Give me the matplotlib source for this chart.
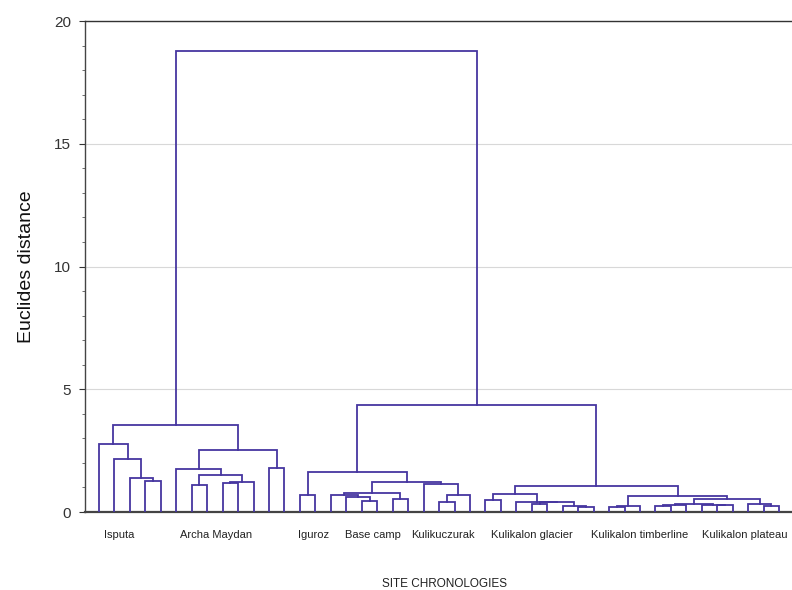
import matplotlib
matplotlib.use("Agg")
import matplotlib.pyplot as plt
from matplotlib.ticker import MultipleLocator

plt.rcParams["font.family"] = ["Liberation Sans", "DejaVu Sans"]

# 45 chronologies, leaves numbered left to right
N_LEAVES = 45

# linkage: node ids >= 45 are clusters, created in this order
merge_a = [3, 2, 1, 0, 6, 8, 50, 49, 5, 11, 53, 48,
           13, 17, 16, 15, 19, 60, 22, 63, 21, 62, 57,
           25, 28, 31, 30, 69, 27, 68,
           33, 75, 36, 77, 40, 39, 78, 43, 42, 81, 76, 74,
           67, 56]
merge_b = [4, 45, 46, 47, 7, 9, 10, 51, 52, 12, 54, 55,
           14, 18, 58, 59, 20, 61, 23, 24, 64, 65, 66,
           26, 29, 32, 70, 71, 72, 73,
           34, 35, 37, 38, 41, 79, 80, 44, 82, 83, 84, 85,
           86, 87]
merge_h = [1.26, 1.40, 2.16, 2.76, 1.10, 1.17, 1.21, 1.51, 1.75, 1.81, 2.54, 3.54,
           0.70, 0.46, 0.60, 0.71, 0.52, 0.76, 0.42, 0.69, 1.15, 1.23, 1.61,
           0.49, 0.31, 0.22, 0.25, 0.39, 0.42, 0.73,
           0.22, 0.25, 0.26, 0.29, 0.27, 0.30, 0.34, 0.26, 0.34, 0.53, 0.65, 1.06,
           4.35, 18.76]

group_names = ["Isputa", "Archa Maydan", "Iguroz", "Base camp", "Kulikuczurak",
               "Kulikalon glacier", "Kulikalon timberline", "Kulikalon plateau"]
group_label_x = [1.3, 7.6, 13.85, 17.7, 22.25, 28.0, 35.0, 41.8]

LINE = "#4636a0"


def dendro_segments(n, a, b, h):
    xs = [float(i) for i in range(n)]
    ys = [0.0] * n
    segs = []
    for i, j, d in zip(a, b, h):
        segs.append(([xs[i], xs[i], xs[j], xs[j]], [ys[i], d, d, ys[j]]))
        xs.append((xs[i] + xs[j]) / 2)
        ys.append(d)
    return segs


fig = plt.figure(figsize=(7.92, 5.90), dpi=100)
ax = fig.add_axes([0.1073, 0.1322, 0.8927, 0.8322])

for sx, sy in dendro_segments(N_LEAVES, merge_a, merge_b, merge_h):
    ax.plot(sx, sy, color=LINE, lw=1.3, zorder=3, solid_joinstyle="miter")

ax.set_ylim(0, 20)
ax.set_xlim(-0.906, 44.83)
ax.set_xticks([])
ax.yaxis.set_major_locator(MultipleLocator(5))
ax.yaxis.set_minor_locator(MultipleLocator(1))
ax.tick_params(axis="y", which="major", length=4, width=0.8, labelsize=11,
               colors="#333333", pad=6)
ax.tick_params(axis="y", which="minor", length=2.5, width=0.6, colors="#555555")
ax.grid(axis="y", color="#d8d8d8", lw=0.8, zorder=0)

ax.spines["right"].set_visible(False)
ax.spines["left"].set_color("#444444")
ax.spines["top"].set_color("#333333")
ax.spines["bottom"].set_color("#444444")
ax.spines["bottom"].set_linewidth(1.6)
ax.spines["left"].set_linewidth(1.0)
ax.spines["top"].set_linewidth(1.0)

ax.set_ylabel("Euclides distance", fontsize=14, color="#111111", labelpad=14)

trans = ax.get_xaxis_transform()
for name, x in zip(group_names, group_label_x):
    ax.text(x, -0.047, name, transform=trans, ha="center", va="center",
            fontsize=8, color="#222222")

ax.text(0.5 * (372 + 517) / 792, 6 / 590, "SITE CHRONOLOGIES", transform=fig.transFigure,
        ha="center", va="center", fontsize=8.5, color="#222222")

fig.savefig("out.png", dpi=100)
